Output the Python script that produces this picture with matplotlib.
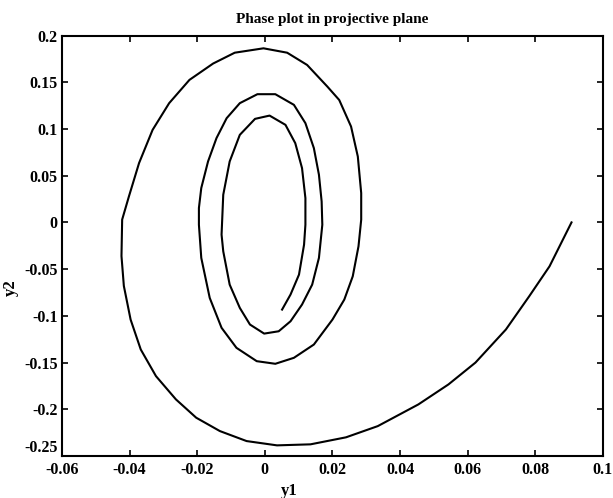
"""
Phase plot in projective plane: spiral trajectory of (y1, y2).
"""

import matplotlib
matplotlib.use("Agg")
import matplotlib.pyplot as plt

# trajectory (starts outside, spirals inward)
y1 = [
    0.0907, 0.0842, 0.0782, 0.0713, 0.0623, 0.0543, 0.0454, 0.0334, 0.0240,
    0.0135, 0.0036, -0.0054, -0.0133, -0.0203, -0.0263, -0.0322, -0.0367,
    -0.0397, -0.0417, -0.0424, -0.0422, -0.0402, -0.0372, -0.0332, -0.0283,
    -0.0223, -0.0153, -0.0089, -0.0004, 0.0066, 0.0125, 0.0185, 0.0220,
    0.0255, 0.0275, 0.0285, 0.0285, 0.0277, 0.0260, 0.0235, 0.0200, 0.0145,
    0.0086, 0.0031, -0.0024, -0.0084, -0.0128, -0.0163, -0.0188, -0.0195,
    -0.0195, -0.0188, -0.0168, -0.0143, -0.0113, -0.0074, -0.0022, 0.0031,
    0.0086, 0.0120, 0.0145, 0.0160, 0.0168, 0.0170, 0.0160, 0.0140, 0.0110,
    0.0076, 0.0041, -0.0002, -0.0044, -0.0074, -0.0104, -0.0123, -0.0128,
    -0.0123, -0.0104, -0.0074, -0.0029, 0.0014, 0.0061, 0.0090, 0.0110,
    0.0120, 0.0120, 0.0116, 0.0101, 0.0076, 0.0051,
]
y2 = [
    0.0, -0.047, -0.079, -0.1146, -0.150, -0.1734, -0.1948, -0.218, -0.230,
    -0.2375, -0.2386, -0.234, -0.2233, -0.209, -0.1894, -0.1645, -0.136,
    -0.104, -0.068, -0.036, 0.003, 0.0278, 0.0635, 0.099, 0.1276,
    0.1525, 0.170, 0.1816, 0.1863, 0.1816, 0.1685, 0.1453, 0.131,
    0.1026, 0.0705, 0.0314, 0.0029, -0.0256, -0.0577, -0.0826, -0.104, -0.1307,
    -0.1449, -0.1513, -0.1485, -0.1342, -0.1128, -0.0808, -0.038, -0.0025,
    0.0154, 0.0368, 0.0652, 0.0902, 0.1115, 0.1276, 0.1372, 0.1372,
    0.1258, 0.1062, 0.0795, 0.051, 0.0224, -0.0025, -0.038, -0.0666, -0.0879,
    -0.1058, -0.1165, -0.119, -0.1093, -0.0915, -0.0666, -0.031, -0.0131,
    0.0296, 0.0652, 0.0937, 0.1108, 0.1143, 0.1044, 0.0848, 0.0581,
    0.026, -0.0025, -0.0238, -0.0559, -0.0772, -0.0933,
]

x_ticks = [-0.06, -0.04, -0.02, 0, 0.02, 0.04, 0.06, 0.08, 0.1]
x_labels = ["-0.06", "-0.04", "-0.02", "0", "0.02", "0.04", "0.06", "0.08", "0.1"]
y_ticks = [-0.25, -0.2, -0.15, -0.1, -0.05, 0, 0.05, 0.1, 0.15, 0.2]
y_labels = ["-0.25", "-0.2", "-0.15", "-0.1", "-0.05", "0", "0.05", "0.1", "0.15", "0.2"]

plt.rcParams["font.family"] = ["Liberation Serif", "DejaVu Serif"]
plt.rcParams["font.weight"] = "bold"

fig = plt.figure(figsize=(6.13, 4.98), dpi=100)
ax = fig.add_axes([0.1011, 0.0843, 0.8825, 0.8444])

ax.plot(y1, y2, color="black", linewidth=1.5)

ax.set_xlim(-0.06, 0.1)
ax.set_ylim(-0.25, 0.2)
ax.set_xticks(x_ticks)
ax.set_xticklabels(x_labels, fontsize=11.5, fontweight="bold")
ax.set_yticks(y_ticks)
ax.set_yticklabels(y_labels, fontsize=11.5, fontweight="bold")
ax.tick_params(direction="in", length=4, width=1.2, top=True, right=True)
ax.tick_params(axis="x", pad=4)
ax.tick_params(axis="y", pad=3)
# the lowest y label sits just above the corner, as in the original
ax.get_yticklabels()[0].set_verticalalignment("bottom")
for sp in ax.spines.values():
    sp.set_linewidth(1.5)

ax.set_title("Phase plot in projective plane", fontsize=11, fontweight="bold", pad=9)
ax.set_xlabel("y1", fontsize=12, fontweight="bold")
ax.set_ylabel("y2", fontsize=12, fontweight="bold")
ax.xaxis.set_label_coords(0.42, -0.065)
ax.yaxis.set_label_coords(-0.08, 0.40)

fig.savefig("out.png", dpi=100)
